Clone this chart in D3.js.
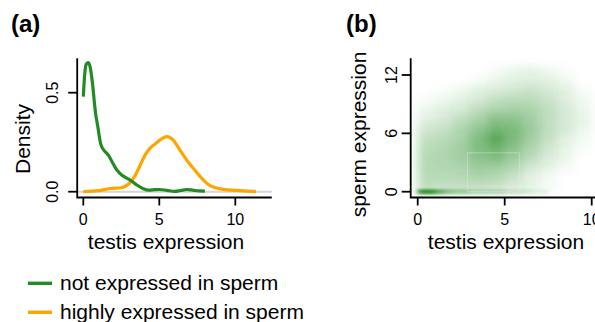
<!DOCTYPE html>
<html><head><meta charset="utf-8">
<script src="https://cdn.jsdelivr.net/npm/d3@7"></script>
<style>
html,body{margin:0;padding:0;background:#fff;}
svg{display:block;font-family:"Liberation Sans",Arial,Helvetica,sans-serif;}
</style></head>
<body>
<svg id="c" width="595" height="322"></svg>
<script>
// ---------- data ----------
const greenX = [0, 0.1, 0.2, 0.33, 0.45, 0.6, 0.8, 0.95, 1.15, 1.4, 1.65, 1.9, 2.2, 2.6, 3.1, 3.5, 3.95, 4.3, 4.7, 5.0, 5.5, 6.0, 6.4, 6.8, 7.2, 7.6, 8.0];
const greenY = [0.48, 0.60, 0.645, 0.652, 0.63, 0.55, 0.40, 0.33, 0.24, 0.205, 0.185, 0.15, 0.11, 0.08, 0.058, 0.035, 0.015, 0.008, 0.01, 0.011, 0.007, 0.002, 0.006, 0.011, 0.008, 0.004, 0.003];
const orangeX = [0, 1.0, 1.75, 2.5, 3.0, 3.4, 3.75, 4.1, 4.4, 4.7, 5.05, 5.5, 5.9, 6.4, 6.9, 7.3, 7.8, 8.2, 8.7, 9.2, 10.1, 11.35];
const orangeY = [0.0, 0.005, 0.016, 0.02, 0.04, 0.08, 0.135, 0.19, 0.22, 0.24, 0.262, 0.278, 0.262, 0.205, 0.15, 0.112, 0.067, 0.038, 0.02, 0.012, 0.007, 0.0];
const seriesNames = ["not expressed in sperm", "highly expressed in sperm"];
const seriesColors = ["#228B22", "#FFA500"];
const ticksAx = [0, 5, 10];
const ticksAy = [0.0, 0.5];
const tickLabelsAy = ["0.0", "0.5"];
const ticksBx = [0, 5, 10];
const ticksBy = [0, 6, 12];
// density of points in the scatter, cells of 1 x 1 unit (rows from y=12..13 down to y=0..1, cols x=0..10)
const cloudRowsY = [12, 11, 10, 9, 8, 7, 6, 5, 4, 3, 2, 1, 0];
const cloudColsX = [0, 1, 2, 3, 4, 5, 6, 7, 8, 9];
const cloudDensity = [
  [0, 0, 0, 0, 0.3, 0.8, 1, 0.6, 0.2, 0],
  [0, 0, 0, 0.3, 0.8, 1.2, 1.6, 1.2, 0.6, 0],
  [0, 0.2, 0.6, 1.2, 1.8, 2.2, 2.5, 2, 1.2, 0.3],
  [0.3, 0.7, 1.2, 2, 2.8, 3.2, 3.2, 2.5, 1.6, 0.6],
  [0.8, 1.3, 2, 3, 4, 4.3, 4, 3, 2, 0.8],
  [1.5, 2, 3, 4.2, 5.5, 5.5, 4.5, 3, 2, 1],
  [2.2, 2.7, 3.7, 5.2, 6.8, 6.2, 4.8, 3, 2, 0.8],
  [2.8, 3.2, 4.2, 6, 8, 6.5, 4.5, 2.8, 1.5, 0.5],
  [3.2, 3.6, 4.5, 6, 7, 5.5, 4, 2.3, 1, 0.3],
  [3.5, 3.8, 4.5, 5.5, 6, 4.8, 3.2, 1.8, 0.8, 0],
  [3.5, 3.6, 4, 4.8, 4.6, 3.6, 2.2, 1, 0.4, 0],
  [3.3, 3.3, 3.4, 3.8, 3.5, 2.6, 1.4, 0.5, 0, 0],
  [3, 2.8, 2.8, 2.8, 2.5, 1.8, 1, 0.4, 0, 0]
];
// points lying exactly on sperm expression = 0, bins of 0.5 units
const zeroRowX = [0, 0.5, 1, 1.5, 2, 2.5, 3, 3.5, 4, 4.5, 5, 5.5, 6, 6.5, 7];
const zeroRowDensity = [10, 10, 7, 5, 4, 4, 3, 3, 3, 3, 2, 2, 1.5, 1, 1];
// highlighted box in the scatter (testis range, sperm range)
const boxX = [2.87, 5.84];
const boxY = [0, 4.0];

// ---------- setup ----------
const svg = d3.select("#c");
const defs = svg.append("defs");
const fBlur = defs.append("filter").attr("id", "blur")
  .attr("x", "-30%").attr("y", "-30%").attr("width", "160%").attr("height", "160%");
fBlur.append("feGaussianBlur").attr("stdDeviation", "5 3.5");
const fBlur2 = defs.append("filter").attr("id", "blur2")
  .attr("x", "-10%").attr("y", "-200%").attr("width", "120%").attr("height", "500%");
fBlur2.append("feGaussianBlur").attr("stdDeviation", "2.5 0.8");

const axisColor = "#000";
const tickFont = 16, titleFont = 21;

// ---------- panel (a) ----------
const xA = d3.scaleLinear().domain([0, 10]).range([83.3, 235.3]);
const yA = d3.scaleLinear().domain([0, 0.5]).range([191.7, 92.7]);
const gA = svg.append("g");

gA.append("text").attr("x", 11).attr("y", 31.5).attr("font-size", 24).attr("font-weight", "bold").text("(a)");

gA.append("line").attr("x1", xA(-0.4)).attr("x2", xA(12.4)).attr("y1", yA(0)).attr("y2", yA(0))
  .attr("stroke", "#d6d6d6").attr("stroke-width", 2);

const lineA = d3.line().x(d => xA(d[0])).y(d => yA(d[1])).curve(d3.curveMonotoneX);
const greenPts = greenX.map((x, i) => [x, greenY[i]]);
const orangePts = orangeX.map((x, i) => [x, orangeY[i]]);
gA.append("path").attr("d", lineA(orangePts)).attr("fill", "none").attr("stroke", seriesColors[1]).attr("stroke-width", 3.2).attr("stroke-linejoin", "round");
gA.append("path").attr("d", lineA(greenPts)).attr("fill", "none").attr("stroke", seriesColors[0]).attr("stroke-width", 3.2).attr("stroke-linejoin", "round");

const yTopA = yA.invert(58.3), yBotA = yA.invert(197.5);
gA.append("path").attr("d", `M${xA(-0.4)},${yA(yTopA)}V${yA(yBotA)}H${xA(12.4)}`)
  .attr("fill", "none").attr("stroke", axisColor).attr("stroke-width", 1.8);
gA.selectAll(".ytA").data(ticksAy).join("line")
  .attr("x1", xA(-0.4) - 9).attr("x2", xA(-0.4)).attr("y1", d => yA(d)).attr("y2", d => yA(d))
  .attr("stroke", axisColor).attr("stroke-width", 1.8);
gA.selectAll(".ylA").data(ticksAy).join("text")
  .attr("transform", d => `translate(58,${yA(d)}) rotate(-90)`)
  .attr("text-anchor", "middle").attr("font-size", tickFont)
  .text((d, i) => tickLabelsAy[i]);
gA.selectAll(".xtA").data(ticksAx).join("line")
  .attr("x1", d => xA(d)).attr("x2", d => xA(d)).attr("y1", yA(yBotA)).attr("y2", yA(yBotA) + 8)
  .attr("stroke", axisColor).attr("stroke-width", 1.8);
gA.selectAll(".xlA").data(ticksAx).join("text")
  .attr("x", d => xA(d)).attr("y", 225).attr("text-anchor", "middle").attr("font-size", tickFont)
  .text(d => d);
gA.append("text").attr("x", 166).attr("y", 249).attr("text-anchor", "middle").attr("font-size", titleFont).text("testis expression");
gA.append("text").attr("transform", "translate(30,139) rotate(-90)").attr("text-anchor", "middle").attr("font-size", titleFont).text("Density");

// legend
const leg = svg.append("g");
seriesNames.forEach((name, i) => {
  const y = 283.3 + i * 29;
  leg.append("line").attr("x1", 28).attr("x2", 52).attr("y1", y).attr("y2", y)
    .attr("stroke", seriesColors[i]).attr("stroke-width", 3.4);
  leg.append("text").attr("x", 60).attr("y", y + 7).attr("font-size", titleFont).text(name);
});

// ---------- panel (b) ----------
const xB = d3.scaleLinear().domain([0, 10]).range([417.7, 591.7]);
const yB = d3.scaleLinear().domain([0, 12]).range([191.7, 75]);
const gB = svg.append("g");
gB.append("text").attr("x", 346).attr("y", 31.5).attr("font-size", 24).attr("font-weight", "bold").text("(b)");

const cells = [];
cloudRowsY.forEach((ry, r) => cloudColsX.forEach((cx, c) => {
  const v = cloudDensity[r][c];
  if (v > 0) cells.push({ x: cx, y: ry, v });
}));
const cloud = gB.append("g").attr("filter", "url(#blur)");
cloud.selectAll("rect").data(cells).join("rect")
  .attr("x", d => xB(d.x)).attr("y", d => yB(d.y + 1))
  .attr("width", xB(1) - xB(0)).attr("height", yB(0) - yB(1))
  .attr("fill", seriesColors[0]).attr("fill-opacity", d => Math.min(0.85, d.v * 0.095));

const zr = gB.append("g").attr("filter", "url(#blur2)");
zr.selectAll("rect").data(zeroRowX.map((x, i) => ({ x, v: zeroRowDensity[i] }))).join("rect")
  .attr("x", d => xB(d.x)).attr("y", yB(0) - 2.6)
  .attr("width", xB(0.5) - xB(0) + 0.5).attr("height", 5.2)
  .attr("fill", seriesColors[0]).attr("fill-opacity", d => Math.min(0.85, d.v * 0.085));

gB.append("rect").attr("x", xB(boxX[0])).attr("y", yB(boxY[1]))
  .attr("width", xB(boxX[1]) - xB(boxX[0])).attr("height", yB(boxY[0]) - yB(boxY[1]))
  .attr("fill", "none").attr("stroke", "#e6e6e6").attr("stroke-opacity", 0.45).attr("stroke-width", 1);

const yTopB = yB.invert(58.3), yBotB = yB.invert(197.5);
const xLeftB = xB.invert(410.7);
gB.append("path").attr("d", `M${xB(xLeftB)},${yB(yTopB)}V${yB(yBotB)}H${xB(11)}`)
  .attr("fill", "none").attr("stroke", axisColor).attr("stroke-width", 1.8);
gB.selectAll(".ytB").data(ticksBy).join("line")
  .attr("x1", xB(xLeftB) - 9).attr("x2", xB(xLeftB)).attr("y1", d => yB(d)).attr("y2", d => yB(d))
  .attr("stroke", axisColor).attr("stroke-width", 1.8);
gB.selectAll(".ylB").data(ticksBy).join("text")
  .attr("transform", d => `translate(396.5,${yB(d)}) rotate(-90)`)
  .attr("text-anchor", "middle").attr("font-size", tickFont).text(d => d);
gB.selectAll(".xtB").data(ticksBx).join("line")
  .attr("x1", d => xB(d)).attr("x2", d => xB(d)).attr("y1", yB(yBotB)).attr("y2", yB(yBotB) + 8)
  .attr("stroke", axisColor).attr("stroke-width", 1.8);
gB.selectAll(".xlB").data(ticksBx).join("text")
  .attr("x", d => xB(d)).attr("y", 225).attr("text-anchor", "middle").attr("font-size", tickFont).text(d => d);
gB.append("text").attr("x", 506).attr("y", 249).attr("text-anchor", "middle").attr("font-size", titleFont).text("testis expression");
gB.append("text").attr("transform", "translate(366,134.5) rotate(-90)").attr("text-anchor", "middle").attr("font-size", titleFont).text("sperm expression");
</script>
</body></html>
